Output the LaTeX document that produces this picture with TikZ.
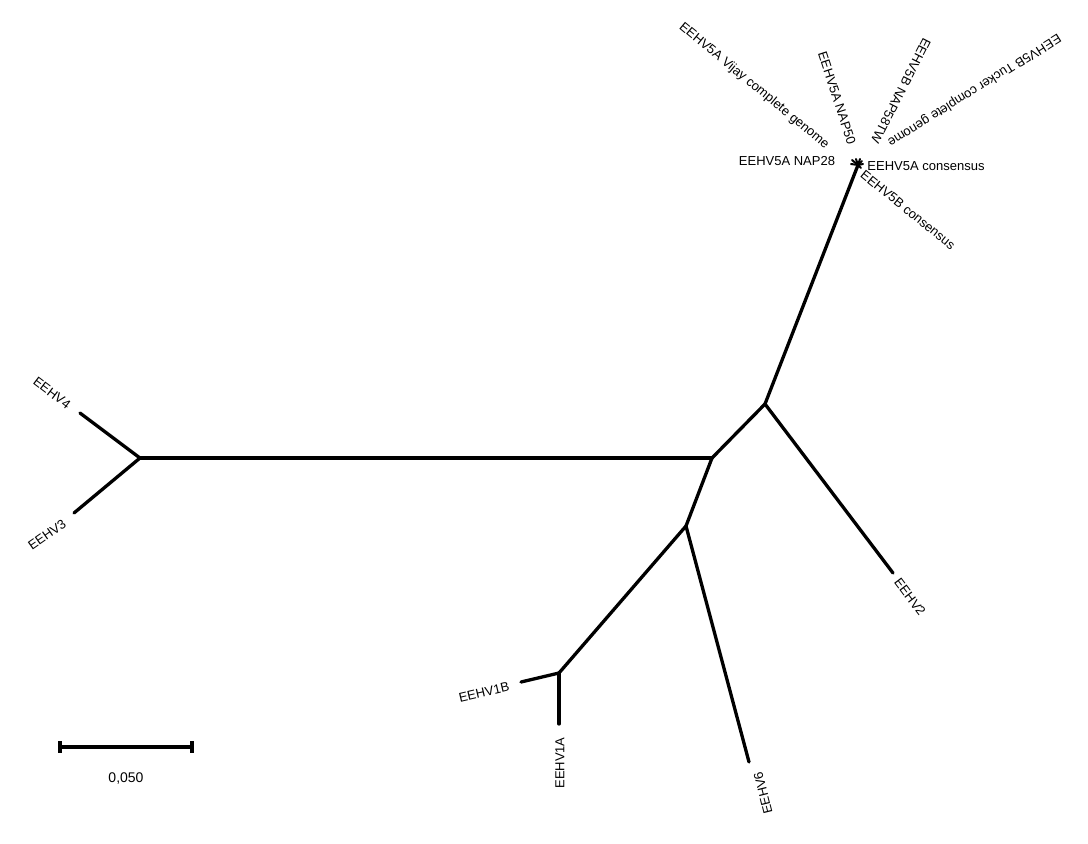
\documentclass[tikz,border=0pt]{standalone}
\usepackage{fontspec}
\setmainfont{Liberation Sans}
\usepackage{tikz}
\usetikzlibrary{calc,positioning}

\tikzset{
  branch/.style={line width=3.3pt, line cap=round, line join=round},
  taxon/.style={font=\fontsize{13}{15}\selectfont, inner sep=0pt},
}

\begin{document}
\begin{tikzpicture}[x=1pt, y=-1pt]
\useasboundingbox[fill=white] (0,0) rectangle (1088,844);

% Internal nodes of the tree
\coordinate (n0) at (140,458);
\coordinate (n1) at (712,458);
\coordinate (n2) at (765,404);
\coordinate (n3) at (686,526);
\coordinate (n4) at (559,673);
\coordinate (n5) at (858,165);

% Tips
\coordinate (t4) at (80,413);
\coordinate (t3) at (74,513);
\coordinate (t2) at (893,573);
\coordinate (t6) at (749,762);
\coordinate (t1b) at (521,682);
\coordinate (t1a) at (559,724);

% EEHV5 cluster, very short branches
\coordinate (v1) at (852,160);
\coordinate (v2) at (856,159);
\coordinate (v3) at (860,159);
\coordinate (v4) at (862,161);
\coordinate (v5) at (851,164);
\coordinate (v6) at (863,164);
\coordinate (v7) at (861,168);

\draw[branch] (n0) -- (n1);
\draw[branch] (n0) -- (t4);
\draw[branch] (n0) -- (t3);
\draw[branch] (n1) -- (n2);
\draw[branch] (n1) -- (n3);
\draw[branch] (n2) -- (n5);
\draw[branch] (n2) -- (t2);
\draw[branch] (n3) -- (n4);
\draw[branch] (n3) -- (t6);
\draw[branch] (n4) -- (t1b);
\draw[branch] (n4) -- (t1a);
\foreach \v in {v1,v2,v3,v4,v5,v6,v7}
  \draw[line width=2pt, line cap=round] (n5) -- (\v);

% Leaf labels
\node[taxon, rotate=-37] (l4) at (52,393) {EEHV4};
\node[taxon, rotate=35] (l3) at (47,535) {EEHV3};
\node[taxon, rotate=13] (l1b) at (484,692) {EEHV1B};
\node[taxon, rotate=90] (l1a) at (560,763) {EEHV1A};
\node[taxon, rotate=104] (l6) at (763,793) {EEHV6};
\node[taxon, rotate=-53] (l2) at (910,597) {EEHV2};
\node[taxon, rotate=-39] (l5bc) at (908,210) {EEHV5B consensus};
\node[taxon] (l5ac) at (926,166) {EEHV5A consensus};
\node[taxon] (l28) at (787,161) {EEHV5A NAP28};
\node[taxon, rotate=-39.5] (lvijay) at (754,86) {EEHV5A Vijay complete genome};
\node[taxon, rotate=-72] (l50) at (837,98) {EEHV5A NAP50};
\node[taxon, rotate=-117] (l58) at (901,91) {EEHV5B NAP58TW};
\node[taxon, rotate=-148] (ltucker) at (974,90) {EEHV5B Tucker complete genome};

% Scale bar
\coordinate (s0) at (60,747);
\coordinate (s1) at (192,747);
\draw[line width=4pt] (s0) -- (s1);
\draw[line width=4pt] ($(s0)+(0,-6)$) -- ($(s0)+(0,6)$);
\draw[line width=4pt] ($(s1)+(0,-6)$) -- ($(s1)+(0,6)$);
\node[font=\fontsize{14}{16}\selectfont, inner sep=0pt] (scale) at (126,778) {0,050};

\end{tikzpicture}
\end{document}
